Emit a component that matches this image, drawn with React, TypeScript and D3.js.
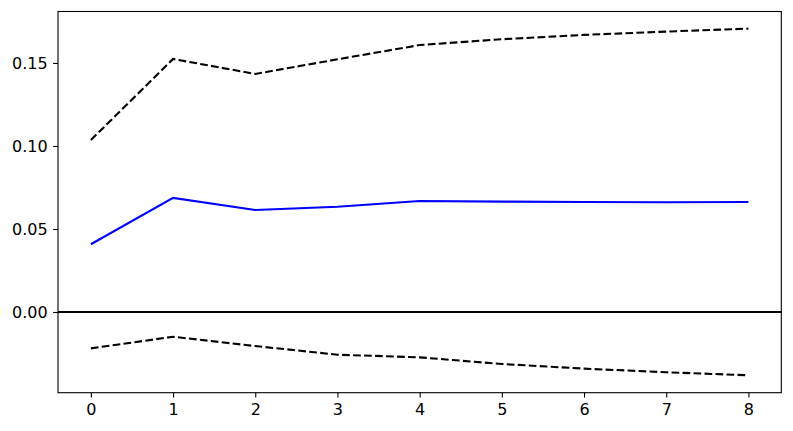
import React, { useEffect, useRef } from 'react';
import * as d3 from 'd3';

// horizon steps
const steps = [0, 1, 2, 3, 4, 5, 6, 7, 8];

// impulse response and confidence bands
const response = [0.0408, 0.0687, 0.0614, 0.0634, 0.0669, 0.0665, 0.0663, 0.0661, 0.0663];
const upperBand = [0.1036, 0.1524, 0.1434, 0.1522, 0.1608, 0.1643, 0.1669, 0.1689, 0.1707];
const lowerBand = [-0.0219, -0.0149, -0.0205, -0.0257, -0.0273, -0.0313, -0.0341, -0.0363, -0.0381];

const yTicks = [0, 0.05, 0.1, 0.15];

const App = () => {
  const svgRef = useRef<SVGSVGElement>(null);

  useEffect(() => {
    const svg = d3.select(svgRef.current);
    svg.selectAll('*').remove();

    const width = 793;
    const height = 431;
    const margin = { top: 11.5, right: 11.7, bottom: 38.3, left: 58 };

    const x = d3.scaleLinear()
      .domain([-0.4, 8.4])
      .range([margin.left, width - margin.right]);

    const y = d3.scaleLinear()
      .domain([-0.0486, 0.181])
      .range([height - margin.bottom, margin.top]);

    const font = 'DejaVu Sans, sans-serif';

    // x axis
    const xAxis = d3.axisBottom(x)
      .tickValues(steps)
      .tickFormat(d3.format('d'))
      .tickSize(4.9)
      .tickPadding(6.5);

    svg.append('g')
      .attr('transform', `translate(0,${height - margin.bottom})`)
      .call(xAxis)
      .call(g => g.select('.domain').remove())
      .call(g => g.selectAll('.tick line').attr('stroke', '#000').attr('stroke-width', 1.1))
      .call(g => g.selectAll('.tick text')
        .attr('fill', '#000')
        .style('font-family', font)
        .style('font-size', '16px'));

    // y axis
    const yAxis = d3.axisLeft(y)
      .tickValues(yTicks)
      .tickFormat(d3.format('.2f'))
      .tickSize(4.9)
      .tickPadding(5.4);

    svg.append('g')
      .attr('transform', `translate(${margin.left},0)`)
      .call(yAxis)
      .call(g => g.select('.domain').remove())
      .call(g => g.selectAll('.tick line').attr('stroke', '#000').attr('stroke-width', 1.1))
      .call(g => g.selectAll('.tick text')
        .attr('fill', '#000')
        .style('font-family', font)
        .style('font-size', '16px'));

    const line = d3.line<number>()
      .x((_, i) => x(steps[i]))
      .y(d => y(d));

    // zero line
    svg.append('line')
      .attr('x1', x(-0.4))
      .attr('x2', x(8.4))
      .attr('y1', y(0))
      .attr('y2', y(0))
      .attr('stroke', '#000')
      .attr('stroke-width', 2);

    // bands
    [upperBand, lowerBand].forEach(band => {
      svg.append('path')
        .datum(band)
        .attr('d', line)
        .attr('fill', 'none')
        .attr('stroke', '#000')
        .attr('stroke-width', 2.1)
        .attr('stroke-dasharray', '7.7,3.3');
    });

    // response
    svg.append('path')
      .datum(response)
      .attr('d', line)
      .attr('fill', 'none')
      .attr('stroke', '#0000ff')
      .attr('stroke-width', 2.1);

    // frame
    svg.append('rect')
      .attr('x', margin.left)
      .attr('y', margin.top)
      .attr('width', width - margin.left - margin.right)
      .attr('height', height - margin.top - margin.bottom)
      .attr('fill', 'none')
      .attr('stroke', '#000')
      .attr('stroke-width', 1.1);
  }, []);

  return (
    <svg
      ref={svgRef}
      width={793}
      height={431}
      style={{ position: 'absolute', left: 0, top: 0, background: '#fff' }}
    />
  );
};

export default App;
